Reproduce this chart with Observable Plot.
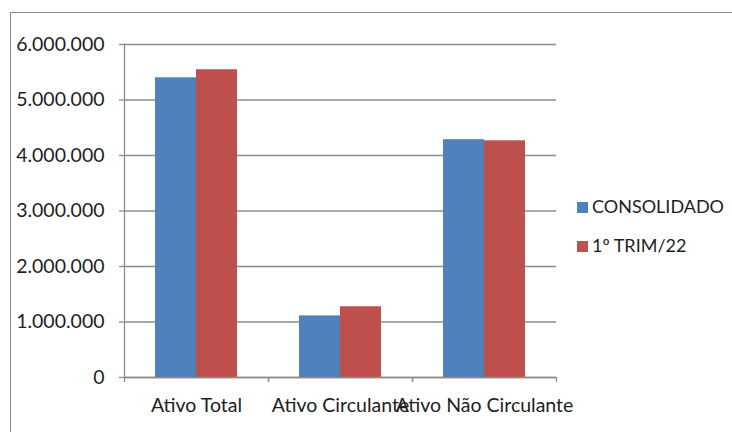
<!DOCTYPE html>
<html>
<head>
<meta charset="utf-8">
<script src="https://cdn.jsdelivr.net/npm/d3@7"></script>
<script src="https://cdn.jsdelivr.net/npm/@observablehq/plot@0.6"></script>
<style>
  body { margin: 0; background: #fff; }
  #wrap { position: relative; width: 732px; height: 432px; overflow: hidden; font-family: Lato, sans-serif; color: #1e1e1e; }
  #border { position: absolute; left: 10px; top: 12px; width: 800px; height: 500px; border-left: 1.5px solid #8c8c8c; border-top: 1.5px solid #8c8c8c; }
  #chart { position: absolute; left: 0; top: 0; }
  .lg-sw { position: absolute; width: 11px; height: 11px; }
  .lg-tx { position: absolute; font-size: 18px; line-height: 18px; white-space: nowrap; }
</style>
</head>
<body>
<div id="wrap">
  <div id="border"></div>
  <div id="chart"></div>
  <div id="legend"></div>
</div>
<script>
const categories = ["Ativo Total", "Ativo Circulante", "Ativo Não Circulante"];
const series = ["CONSOLIDADO", "1º TRIM/22"];
const consolidado = [5400000, 1110000, 4285000];
const trim22 = [5545000, 1275000, 4265000];
const yTicks = [0, 1000000, 2000000, 3000000, 4000000, 5000000, 6000000];
const colors = ["#4F81BD", "#C0504D"];

const values = [consolidado, trim22];
const data = [];
categories.forEach((c, i) => series.forEach((s, j) => data.push({category: c, series: s, value: values[j][i]})));

const W = 732, H = 432, ml = 124, mr = 176, mt = 44, mb = 55;
const bandW = (W - ml - mr) / categories.length;
const grey = "#8c8c8c";
const fmt = d3.formatLocale({thousands: ".", grouping: [3], decimal: ",", currency: ["", ""]}).format(",d");

const chart = Plot.plot({
  width: W, height: H,
  marginLeft: ml, marginRight: mr, marginTop: mt, marginBottom: mb,
  style: {fontFamily: "Lato, sans-serif", fontSize: "19.5px", color: "#1e1e1e", background: "transparent"},
  fx: {domain: categories, padding: 0, label: null, axis: null},
  x: {domain: series, paddingInner: 0, paddingOuter: 0.735, axis: null},
  y: {domain: [0, 6000000], axis: null},
  color: {domain: series, range: colors},
  marks: [
    Plot.gridY(yTicks, {stroke: grey, strokeOpacity: 1, strokeWidth: 1.3}),
    Plot.barY(data, {fx: "category", x: "series", y: "value", fill: "series"}),
    Plot.ruleY([0], {stroke: grey, strokeWidth: 1.3}),
    Plot.frame({anchor: "left", facetAnchor: "left", stroke: grey, strokeWidth: 1.3}),
    Plot.axisY(yTicks, {tickSize: 5, tickPadding: 15, tickFormat: fmt, stroke: grey, strokeWidth: 1.3, fill: "#1e1e1e", label: null}),
    Plot.axisFx({anchor: "bottom", tickSize: 0, tickPadding: 21, label: null, fill: "#1e1e1e"}),
    Plot.axisFx({anchor: "bottom", text: null, tickSize: 5, dx: -bandW / 2, stroke: grey, strokeWidth: 1.3, label: null}),
    Plot.axisFx({anchor: "bottom", text: null, tickSize: 5, dx: bandW / 2, stroke: grey, strokeWidth: 1.3, label: null})
  ]
});
document.getElementById("chart").appendChild(chart);

const legend = document.getElementById("legend");
const legendTops = [197, 236];
series.forEach((s, j) => {
  const sw = document.createElement("div");
  sw.className = "lg-sw";
  sw.style.left = "577px";
  sw.style.top = (legendTops[j] + 4.5) + "px";
  sw.style.background = colors[j];
  legend.appendChild(sw);
  const tx = document.createElement("div");
  tx.className = "lg-tx";
  tx.style.left = "592px";
  tx.style.top = legendTops[j] + "px";
  tx.textContent = s;
  legend.appendChild(tx);
});
</script>
</body>
</html>
